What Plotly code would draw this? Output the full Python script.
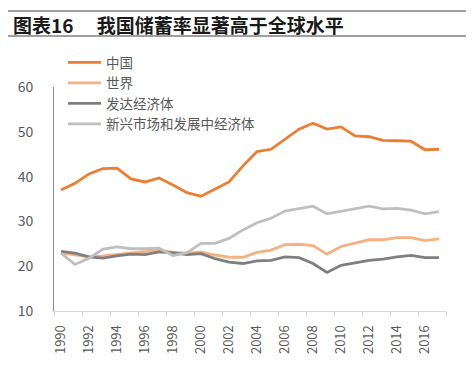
import plotly.graph_objects as go

years = list(range(1990, 2018))
china = [37.0, 38.5, 40.6, 41.8, 41.9, 39.5, 38.8, 39.7, 38.1, 36.4, 35.6, 37.2, 38.8, 42.4,
         45.6, 46.1, 48.3, 50.6, 51.9, 50.6, 51.1, 49.1, 48.9, 48.1, 48.0, 47.9, 46.0, 46.1]
world = [23.0, 22.5, 22.1, 22.3, 22.6, 23.0, 23.2, 23.6, 23.1, 22.9, 23.2, 22.5, 22.0, 22.0,
         23.1, 23.6, 24.8, 24.9, 24.6, 22.7, 24.4, 25.1, 25.9, 25.9, 26.4, 26.4, 25.7, 26.1]
developed = [23.3, 22.9, 22.1, 21.8, 22.3, 22.7, 22.6, 23.2, 23.0, 22.6, 22.8, 21.7, 20.9, 20.6,
             21.2, 21.3, 22.1, 21.9, 20.6, 18.6, 20.2, 20.7, 21.3, 21.6, 22.1, 22.4, 21.9, 21.9]
emerging = [22.9, 20.4, 21.8, 23.8, 24.3, 23.9, 23.9, 24.0, 22.4, 23.0, 25.1, 25.1, 26.2, 28.1,
            29.7, 30.7, 32.3, 32.8, 33.4, 31.7, 32.3, 32.9, 33.4, 32.8, 32.9, 32.5, 31.7, 32.2]
series_names = ["中国", "世界", "发达经济体", "新兴市场和发展中经济体"]
series_colors = ["#ED7D31", "#F4B183", "#7F7F7F", "#BFBFBF"]
y_ticks = [10, 20, 30, 40, 50, 60]
x_label_years = list(range(1990, 2017, 2))
title_text = "<b>图表16\u3000\u00a0我国储蓄率显著高于全球水平</b>"

font_family = "Noto Sans CJK SC, Noto Sans, sans-serif"
W, H = 474, 372
L, R, T, B = 54, 28, 87, 61
PW, PH = W - L - R, H - T - B

fig = go.Figure()
for name, vals, col in zip(series_names, [china, world, developed, emerging], series_colors):
    fig.add_trace(go.Scatter(x=years, y=vals, name=name, mode="lines",
                             line=dict(color=col, width=2.8)))

# invisible trace to host the tick-mark axis
fig.add_trace(go.Scatter(x=[years[0]], y=[y_ticks[0]], xaxis="x2", showlegend=False,
                         mode="markers", marker=dict(opacity=0), hoverinfo="skip"))

xr = [years[0] - 0.5, years[-1] + 0.5]
fig.update_layout(
    width=W, height=H,
    margin=dict(l=L, r=R, t=T, b=B, autoexpand=False),
    plot_bgcolor="white", paper_bgcolor="white",
    font=dict(family=font_family, color="#595959", size=13),
    showlegend=True,
    legend=dict(x=(63 - L) / PW, y=(H - B - 47) / PH, xanchor="left", yanchor="top",
                bgcolor="rgba(0,0,0,0)", font=dict(size=13.5, color="#595959"),
                tracegroupgap=0, itemwidth=33),
    xaxis=dict(range=xr, tickmode="array", tickvals=x_label_years,
               ticktext=[str(y) for y in x_label_years], tickangle=-90,
               showgrid=False, zeroline=False, showline=True, linecolor="#D9D9D9",
               linewidth=1, ticks="", tickfont=dict(size=13, color="#595959"),
               ticklabelstandoff=8),
    xaxis2=dict(range=xr, overlaying="x", side="bottom", tickmode="array",
                tickvals=[years[0] - 0.5 + 2 * i for i in range(15)],
                showticklabels=False, ticks="outside", ticklen=5, tickcolor="#D9D9D9",
                showgrid=False, zeroline=False, showline=False),
    yaxis=dict(range=[10, 60], tickmode="array", tickvals=y_ticks,
               showgrid=False, zeroline=False, showline=True, linecolor="#8C8C8C",
               linewidth=1, ticks="", tickfont=dict(size=14, color="#595959"),
               ticklabelstandoff=17),
)

fig.add_annotation(text=title_text, xref="paper", yref="paper", x=(11 - L) / PW,
                   y=(H - B - 24) / PH, xanchor="left", yanchor="middle", showarrow=False,
                   font=dict(size=19, color="#1A1A1A", family=font_family))
# horizontal rules framing the title
x0p, x1p = (8 - L) / PW, (466 - L) / PW
y_top, y_bot = (H - B - 11) / PH, (H - B - 36) / PH
fig.add_shape(type="line", xref="paper", yref="paper", x0=x0p, x1=x1p, y0=y_top, y1=y_top,
              line=dict(color="#404040", width=1.2), layer="above")
fig.add_shape(type="line", xref="paper", yref="paper", x0=x0p, x1=x1p, y0=y_bot, y1=y_bot,
              line=dict(color="#404040", width=1.2), layer="above")

fig.write_html("out.html", config={"displayModeBar": False},
               post_script="document.body.style.margin='0';")
